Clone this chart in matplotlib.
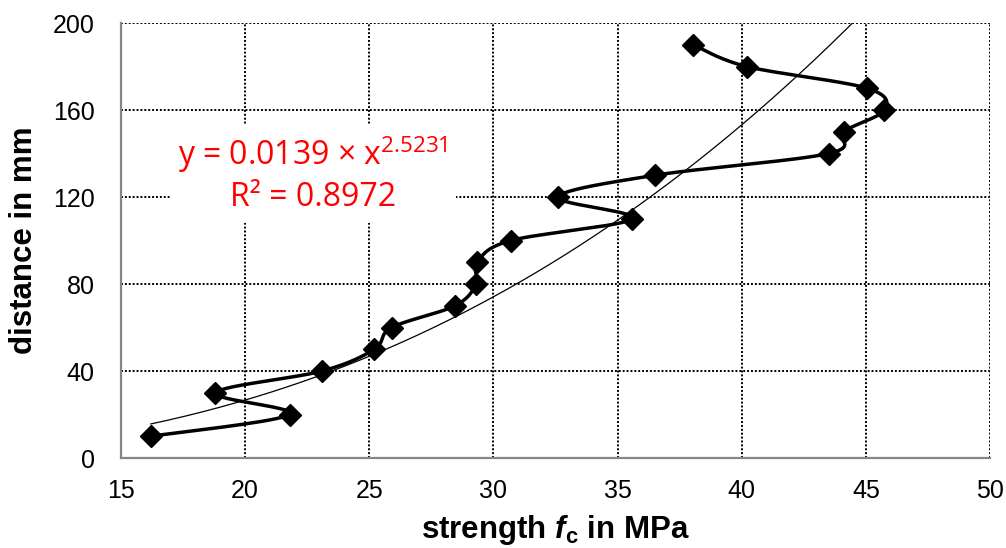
import numpy as np
import matplotlib.pyplot as plt

distance = [10, 20, 30, 40, 50, 60, 70, 80, 90, 100,
            110, 120, 130, 140, 150, 160, 170, 180, 190]
strength = [16.2, 21.8, 18.8, 23.1, 25.2, 25.9, 28.45, 29.3, 29.35, 30.7,
            35.6, 32.6, 36.5, 43.5, 44.1, 45.75, 45.05, 40.2, 38.05]

# power trendline y = a * x^b
fit_a = 0.0139
fit_b = 2.5231
fit_r2 = 0.8972

x_ticks = [15, 20, 25, 30, 35, 40, 45, 50]
y_ticks = [0, 40, 80, 120, 160, 200]

plt.rcParams['font.family'] = 'Liberation Sans'
plt.rcParams['mathtext.fontset'] = 'custom'
plt.rcParams['mathtext.rm'] = 'Open Sans'
plt.rcParams['mathtext.it'] = 'Liberation Sans:italic:bold'
plt.rcParams['mathtext.bf'] = 'Liberation Sans:bold'


def smooth(xs, ys, n=30):
    # Excel-style smoothed line (Catmull-Rom as cubic Bezier)
    p = np.column_stack([xs, ys]).astype(float)
    p = np.vstack([p[0], p, p[-1]])
    out = []
    t = np.linspace(0, 1, n)[:, None]
    for i in range(1, len(p) - 2):
        b0 = p[i]
        b1 = p[i] + (p[i + 1] - p[i - 1]) / 6
        b2 = p[i + 1] - (p[i + 2] - p[i]) / 6
        b3 = p[i + 1]
        seg = ((1 - t) ** 3) * b0 + 3 * ((1 - t) ** 2) * t * b1 + 3 * (1 - t) * t ** 2 * b2 + t ** 3 * b3
        out.append(seg)
    out = np.vstack(out)
    return out[:, 0], out[:, 1]


fig = plt.figure(figsize=(10.06, 5.48), dpi=100)
ax = fig.add_axes([0.1203, 0.1642, 0.8638, 0.7938])

sx, sy = smooth(strength, distance)
ax.plot(sx, sy, color='black', lw=2.5, zorder=3)
ax.plot(strength, distance, ls='none', marker='D', ms=11.5, color='black', zorder=4)

xf = np.linspace(min(strength), max(strength), 300)
ax.plot(xf, fit_a * xf ** fit_b, color='black', lw=0.9, zorder=5)

ax.set_xlim(15, 50)
ax.set_ylim(0, 200)
ax.set_xticks(x_ticks)
ax.set_yticks(y_ticks)
ax.tick_params(length=0, labelsize=18)
ax.tick_params(axis='x', pad=15)
ax.tick_params(axis='y', pad=19)
ax.grid(True, color='black', ls=(0, (1, 1)), lw=1.4)
ax.set_axisbelow(True)

for s in ['top', 'right']:
    ax.spines[s].set_visible(False)
for s in ['left', 'bottom']:
    ax.spines[s].set_color('#868686')
    ax.spines[s].set_linewidth(1.6)

ax.set_xlabel(r'strength $\mathit{f}_{\mathbf{c}}$ in MPa', fontsize=22.5, fontweight='bold', labelpad=7)
ax.set_ylabel('distance in mm', fontsize=22.5, fontweight='bold', labelpad=10)

eq = 'y = %.4f × x$^{%.4f}$\nR² = %.4f' % (fit_a, fit_b, fit_r2)
ax.text(0.221, 0.652, eq, transform=ax.transAxes, ha='center', va='center',
        fontsize=23, color='red', family='Open Sans', linespacing=1.25,
        bbox=dict(facecolor='white', edgecolor='none', pad=6), zorder=6)

fig.savefig('out.png', dpi=100)
